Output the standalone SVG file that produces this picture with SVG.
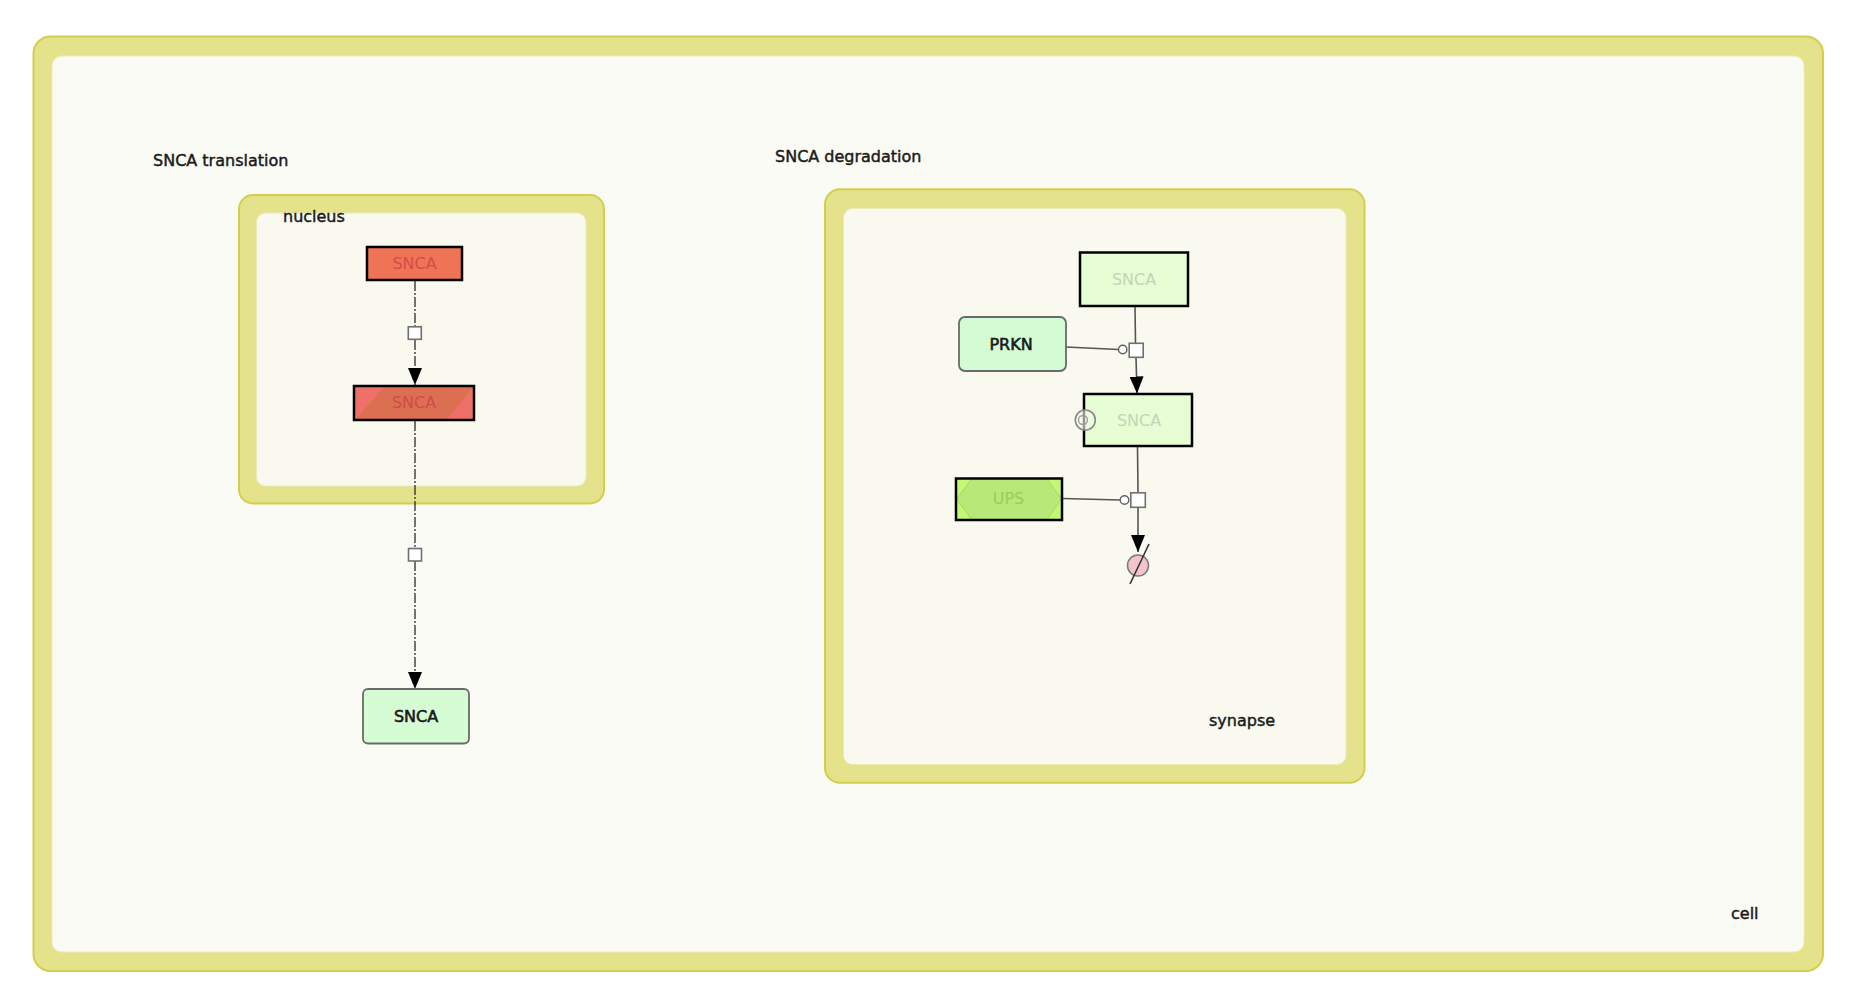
<svg xmlns="http://www.w3.org/2000/svg" width="1850" height="1002" viewBox="0 0 1850 1002">
<defs>
<style>
.band{fill:#e4e28a;stroke:#d3cf4c;stroke-width:2}
.inner{fill:#f9f9ef;stroke:#ecebb8;stroke-width:1}
.lbl{font-family:"DejaVu Sans","Liberation Sans",sans-serif;font-size:16px;fill:#1a1a1a;stroke:#1a1a1a;stroke-width:0.45}
.nt{font-family:"DejaVu Sans","Liberation Sans",sans-serif;font-size:16px;text-anchor:middle}
.dk{fill:#1a1a1a;stroke:#1a1a1a;stroke-width:0.6}
.dd{fill:none;stroke:#2a2a2a;stroke-width:1.3;stroke-dasharray:10,2,2,2}
.sl{fill:none;stroke:#555;stroke-width:1.6}
.pn{fill:#ffffff;stroke:#707070;stroke-width:1.6}
.blk{fill:none;stroke:#000;stroke-width:2.5}
</style>
<marker id="arr" markerUnits="userSpaceOnUse" viewBox="0 0 17 14" refX="17" refY="7" markerWidth="17" markerHeight="14" orient="auto">
<path d="M0,0 L17,7 L0,14 z" fill="#000"/>
</marker>
</defs>
<rect width="1850" height="1002" fill="#ffffff"/>

<g id="cell">
<rect class="band" x="33.5" y="36.5" width="1789.5" height="934.5" rx="17"/>
<rect x="52" y="56" width="1752" height="896" rx="10" fill="#fbfbf5" stroke="#eeedc0" stroke-width="1"/>
<text class="lbl" x="1731" y="919">cell</text>
</g>

<g id="label-translation"><text class="lbl" x="153" y="166">SNCA translation</text></g>
<g id="label-degradation"><text class="lbl" x="775" y="162">SNCA degradation</text></g>

<g id="nucleus">
<rect class="band" x="239" y="195" width="365" height="308.5" rx="14"/>
<rect class="inner" x="256.5" y="213" width="329.5" height="273" rx="9"/>
<text class="lbl" x="283" y="221.5">nucleus</text>
</g>

<g id="synapse">
<rect class="band" x="825" y="189.3" width="539.5" height="593.5" rx="15"/>
<rect class="inner" x="843.5" y="208.5" width="502.5" height="556" rx="9"/>
<text class="lbl" x="1209" y="726">synapse</text>
</g>

<g id="connectors">
<line class="dd" x1="415" y1="281" x2="415" y2="327"/>
<line class="dd" x1="415" y1="340" x2="415" y2="385" marker-end="url(#arr)"/>
<line class="dd" x1="415" y1="421" x2="415" y2="548.5"/>
<line class="dd" x1="415" y1="561" x2="415" y2="689" marker-end="url(#arr)"/>
<rect class="pn" x="408.3" y="326.8" width="13" height="12.5"/>
<rect class="pn" x="408.5" y="548.5" width="13" height="12.5"/>

<line class="sl" x1="1135" y1="306" x2="1135.5" y2="343.5"/>
<line class="sl" x1="1136" y1="357.5" x2="1137" y2="393.5" marker-end="url(#arr)"/>
<line class="sl" x1="1066" y1="347" x2="1118.5" y2="349.5"/>
<circle cx="1122.7" cy="349.5" r="4.2" fill="#fff" stroke="#606060" stroke-width="1.4"/>
<rect class="pn" x="1129.2" y="343.3" width="14" height="14"/>

<line class="sl" x1="1137.5" y1="446.5" x2="1138" y2="493"/>
<line class="sl" x1="1138" y1="507.5" x2="1138" y2="552" marker-end="url(#arr)"/>
<line class="sl" x1="1062.5" y1="498.5" x2="1120.2" y2="500"/>
<circle cx="1124.5" cy="500" r="4.3" fill="#fff" stroke="#606060" stroke-width="1.4"/>
<rect class="pn" x="1130.8" y="492.8" width="14.5" height="14.5"/>
</g>

<g id="snca-gene">
<rect x="367" y="247" width="95" height="33" fill="#ef7455"/>
<rect class="blk" x="367" y="247" width="95" height="33"/>
<text class="nt" x="414.5" y="269" fill="#d44c48">SNCA</text>
</g>

<g id="snca-rna">
<rect x="354" y="386" width="120" height="34" fill="#ef7068"/>
<polygon points="385,386 474,386 446.5,420 355,420" fill="#dc6f52"/>
<rect class="blk" x="354" y="386" width="120" height="34"/>
<text class="nt" x="414" y="408" fill="#d04a4a">SNCA</text>
</g>

<g id="snca-protein">
<rect x="363" y="689" width="106" height="54.5" rx="5" fill="#d6fcd4" stroke="#6a6a6a" stroke-width="1.8"/>
<text class="nt dk" x="416" y="722">SNCA</text>
</g>

<g id="snca-syn">
<rect x="1080" y="252.5" width="108" height="53.5" fill="#e7fdd3"/>
<rect class="blk" x="1080" y="252.5" width="108" height="53.5"/>
<text class="nt" x="1134" y="285" fill="#c6d2ba">SNCA</text>
</g>

<g id="prkn">
<rect x="959" y="317" width="107" height="54" rx="6" fill="#d4fcd4" stroke="#6a6a6a" stroke-width="1.8"/>
<text class="nt dk" x="1011" y="350">PRKN</text>
</g>

<g id="snca-ub">
<rect x="1084" y="394" width="108" height="52" fill="#e7fdd3"/>
<rect class="blk" x="1084" y="394" width="108" height="52"/>
<text class="nt" x="1139" y="426" fill="#c6d2ba">SNCA</text>
<circle cx="1085.3" cy="420" r="10" fill="#f6f8ee" fill-opacity="0.6" stroke="#8a8a8a" stroke-width="1.6"/>
<circle cx="1083" cy="420" r="4.5" fill="none" stroke="#9a9a9a" stroke-width="1.3"/>
</g>

<g id="ups">
<rect x="956" y="478.5" width="106" height="41.5" fill="#c2f872"/>
<polygon points="956.5,499 972,478.5 1046.5,478.5 1061.5,499 1046.5,520 972,520" fill="#b8e878" stroke="#a6d866" stroke-width="1"/>
<rect class="blk" x="956" y="478.5" width="106" height="41.5"/>
<text class="nt" x="1008.5" y="504" fill="#9ccc5c">UPS</text>
</g>

<g id="degradation">
<circle cx="1138" cy="565.5" r="10.5" fill="#f4c4cc" stroke="#7a7a7a" stroke-width="1.5"/>
<line x1="1130" y1="584" x2="1149" y2="544" stroke="#333" stroke-width="1.6"/>
</g>
</svg>
